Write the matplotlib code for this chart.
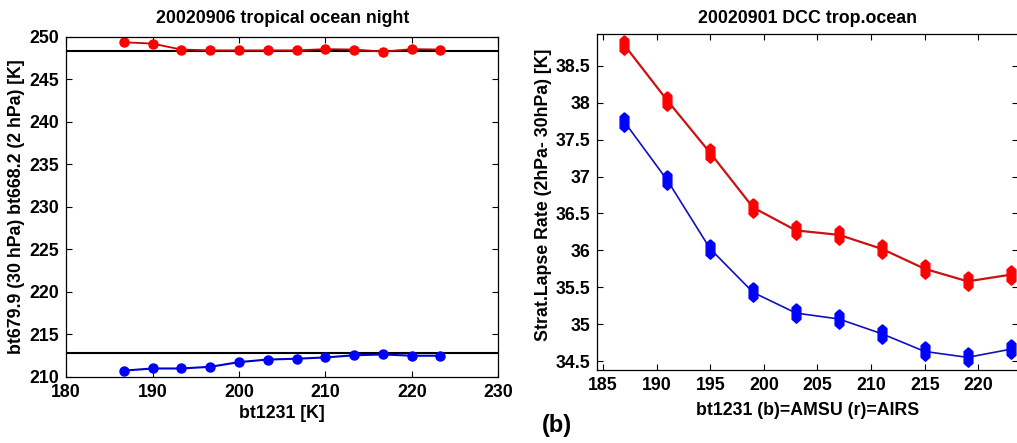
import numpy as np
import matplotlib
matplotlib.use("Agg")
import matplotlib.pyplot as plt

plt.rcParams['font.family'] = ['Liberation Sans', 'DejaVu Sans']
plt.rcParams['font.weight'] = 'bold'

# left panel: 20020906 tropical ocean night
bt1231_a = [186.7, 190.0, 193.3, 196.7, 200.0, 203.3, 206.7, 210.0, 213.3, 216.7, 220.0, 223.3]
bt668_2hpa = [249.35, 249.2, 248.5, 248.4, 248.4, 248.4, 248.4, 248.55, 248.5, 248.25, 248.55, 248.5]
bt679_30hpa = [210.75, 211.0, 211.0, 211.2, 211.75, 212.05, 212.15, 212.3, 212.55, 212.65, 212.5, 212.5]
ref_lines = [248.35, 212.8]

# right panel: 20020901 DCC trop.ocean
bt1231_b = [187, 191, 195, 199, 203, 207, 211, 215, 219, 223]
lapse_airs = [38.78, 38.03, 37.32, 36.58, 36.27, 36.21, 36.02, 35.75, 35.58, 35.67]
lapse_amsu = [37.74, 36.95, 36.02, 35.43, 35.15, 35.07, 34.87, 34.63, 34.55, 34.66]

fig = plt.figure(figsize=(10.17, 4.43), dpi=100)

def style(ax, size):
    ax.tick_params(direction='in', top=True, right=True, labelsize=size, length=4, width=0.8, pad=5)
    for lab in ax.get_xticklabels() + ax.get_yticklabels():
        lab.set_fontweight('bold')
    for s in ax.spines.values():
        s.set_linewidth(0.9)

ax1 = fig.add_axes([0.065, 0.149, 0.425, 0.768])
for y in ref_lines:
    ax1.axhline(y, color='black', lw=1.5, zorder=1)
ax1.plot(bt1231_a, bt668_2hpa, '-o', color='#cc0000', mfc='red', mec='red', ms=6.5, lw=1.3)
ax1.plot(bt1231_a, bt679_30hpa, '-o', color='#0000cc', mfc='blue', mec='blue', ms=6.5, lw=1.5)
ax1.set_xlim(180, 230)
ax1.set_ylim(210, 250)
ax1.set_xticks(np.arange(180, 231, 10))
ax1.set_yticks(np.arange(210, 251, 5))
ax1.set_xlabel('bt1231 [K]', fontsize=12.8, fontweight='bold')
ax1.xaxis.set_label_coords(0.5, -0.082)
ax1.set_ylabel('bt679.9 (30 hPa) bt668.2 (2 hPa) [K]', fontsize=12.8, fontweight='bold')
ax1.yaxis.set_label_coords(-0.095, 0.5)
ax1.set_title('20020906 tropical ocean night', fontsize=12.8, fontweight='bold', pad=10)
style(ax1, 12.8)

# elongated marker for the stacked points
tall = [(0, 1), (0.45, 0.6), (0.45, -0.6), (0, -1), (-0.45, -0.6), (-0.45, 0.6), (0, 1)]

ax2 = fig.add_axes([0.587, 0.165, 0.414, 0.758])
ax2.plot(bt1231_b, lapse_airs, '-', color='#cc1111', lw=1.6)
ax2.plot(bt1231_b, lapse_airs, ls='none', marker=tall, color='red', ms=14)
ax2.plot(bt1231_b, lapse_amsu, '-', color='#1111bb', lw=1.2)
ax2.plot(bt1231_b, lapse_amsu, ls='none', marker=tall, color='blue', ms=14)
ax2.set_xlim(184.44, 223.7)
ax2.set_ylim(34.38, 38.93)
ax2.set_xticks(np.arange(185, 221, 5))
ax2.set_yticks(np.arange(34.5, 38.6, 0.5))
ax2.set_yticklabels(['34.5', '35', '35.5', '36', '36.5', '37', '37.5', '38', '38.5'])
ax2.set_xlabel('bt1231 (b)=AMSU (r)=AIRS', fontsize=12.8, fontweight='bold')
ax2.xaxis.set_label_coords(0.5, -0.095)
ax2.set_ylabel('Strat.Lapse Rate (2hPa- 30hPa) [K]', fontsize=12.8, fontweight='bold')
ax2.yaxis.set_label_coords(-0.107, 0.52)
ax2.set_title('20020901 DCC trop.ocean', fontsize=12.8, fontweight='bold', pad=8)
style(ax2, 12.8)

fig.text(0.548, 0.04, '(b)', fontsize=17, fontweight='bold', ha='center', va='center')

fig.savefig('out.png', dpi=100)
